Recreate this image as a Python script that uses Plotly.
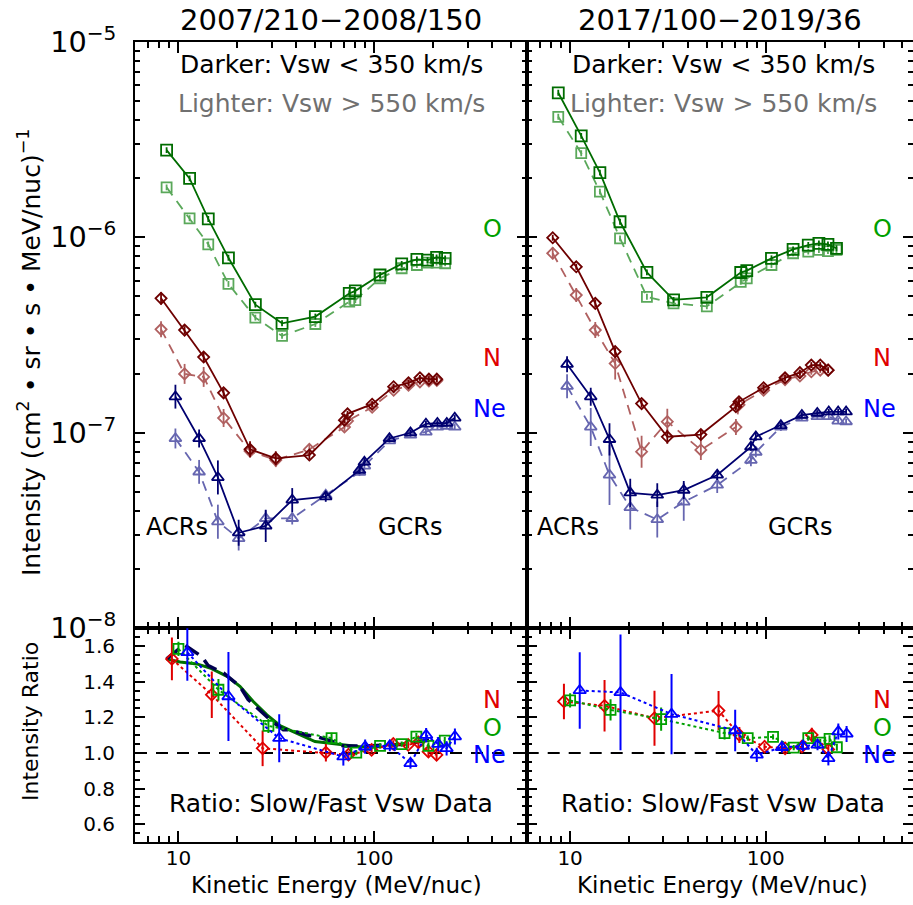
import numpy as np
import plotly.graph_objects as go

# ---------------- data ----------------
# energies (MeV/nuc) of the intensity spectra
E_O = [8.7, 11.4, 14.2, 18.0, 24.7, 33.8, 50.0, 74.5, 80.0, 107, 138, 165, 187, 208, 230]
E_N = [8.15, 10.75, 13.45, 17.0, 23.2, 31.4, 46.6, 70.4, 73.0, 97.5, 125.5, 149.5, 171, 190, 208.5]
E_Ne = [9.65, 12.75, 15.9, 20.3, 27.9, 38.1, 56.5, 84, 89, 119.5, 153, 183.5, 210, 234.5, 257.5]

# period 1: 2007/210-2008/150  (slow = darker, fast = lighter)
P1_O_slow = [2.79e-6, 2.0e-6, 1.24e-6, 7.85e-7, 4.52e-7, 3.63e-7, 3.93e-7, 5.16e-7, 5.32e-7, 6.41e-7, 7.3e-7, 7.71e-7, 7.64e-7, 7.88e-7, 7.79e-7]
P1_O_fast = [1.80e-6, 1.25e-6, 9.2e-7, 5.77e-7, 3.88e-7, 3.13e-7, 3.6e-7, 4.68e-7, 4.77e-7, 6.17e-7, 6.94e-7, 7.21e-7, 7.41e-7, 7.41e-7, 7.36e-7]
P1_N_slow = [4.87e-7, 3.35e-7, 2.44e-7, 1.60e-7, 8.23e-8, 7.40e-8, 7.69e-8, 1.16e-7, 1.25e-7, 1.40e-7, 1.72e-7, 1.80e-7, 1.91e-7, 1.88e-7, 1.88e-7]
P1_N_fast = [3.38e-7, 2.0e-7, 1.93e-7, 1.19e-7, 8.06e-8, 7.25e-8, 8.22e-8, 1.07e-7, 1.15e-7, 1.35e-7, 1.65e-7, 1.75e-7, 1.82e-7, 1.84e-7, 1.85e-7]
P1_Ne_slow = [1.53e-7, 9.35e-8, 5.91e-8, 3.08e-8, 3.34e-8, 4.53e-8, 4.71e-8, 6.44e-8, 7.08e-8, 9.35e-8, 1.0e-7, 1.11e-7, 1.12e-7, 1.12e-7, 1.19e-7]
P1_Ne_fast = [9.35e-8, 6.31e-8, 3.51e-8, 2.88e-8, 3.65e-8, 3.65e-8, 4.8e-8, 6.29e-8, 6.76e-8, 9.1e-8, 9.73e-8, 1.01e-7, 1.07e-7, 1.08e-7, 1.07e-7]

# period 2: 2017/100-2019/36
P2_O_slow = [5.48e-6, 3.30e-6, 2.14e-6, 1.20e-6, 6.61e-7, 4.78e-7, 4.93e-7, 6.6e-7, 6.75e-7, 7.8e-7, 8.67e-7, 9.12e-7, 9.3e-7, 9.2e-7, 8.78e-7]
P2_O_fast = [4.13e-6, 2.69e-6, 1.71e-6, 9.87e-7, 4.96e-7, 4.59e-7, 4.43e-7, 5.91e-7, 6.16e-7, 7.21e-7, 8.28e-7, 8.44e-7, 8.61e-7, 8.5e-7, 8.61e-7]
P2_N_slow = [9.94e-7, 7.06e-7, 4.59e-7, 2.6e-7, 1.41e-7, 9.54e-8, 9.79e-8, 1.36e-7, 1.44e-7, 1.70e-7, 1.91e-7, 2.03e-7, 2.22e-7, 2.22e-7, 2.09e-7]
P2_N_fast = [8.28e-7, 5.06e-7, 3.35e-7, 2.26e-7, 8.0e-8, 1.14e-7, 8.17e-8, 1.07e-7, 1.39e-7, 1.65e-7, 1.87e-7, 1.95e-7, 2.05e-7, 2.09e-7, 2.09e-7]
P2_Ne_slow = [2.24e-7, 1.53e-7, 9.25e-8, 4.93e-8, 4.8e-8, 5.09e-8, 6.08e-8, 8.47e-8, 9.54e-8, 1.09e-7, 1.23e-7, 1.26e-7, 1.28e-7, 1.28e-7, 1.28e-7]
P2_Ne_fast = [1.73e-7, 1.07e-7, 6.08e-8, 4.15e-8, 3.6e-8, 4.43e-8, 5.4e-8, 7.24e-8, 7.96e-8, 1.07e-7, 1.19e-7, 1.21e-7, 1.21e-7, 1.15e-7, 1.14e-7]

# uncertainties (in dex)
P1_O_slow_err = [0.015, 0.015, 0.015, 0.015, 0.015, 0.015, 0.015, 0.015, 0.015, 0.015, 0.015, 0.015, 0.015, 0.015, 0.015]
P1_O_fast_err = [0.015, 0.015, 0.015, 0.015, 0.015, 0.015, 0.015, 0.015, 0.015, 0.015, 0.015, 0.015, 0.015, 0.015, 0.015]
P1_N_slow_err = [0.031, 0.02, 0.026, 0.02, 0.041, 0.036, 0.02, 0.015, 0.015, 0.015, 0.015, 0.015, 0.015, 0.015, 0.015]
P1_N_fast_err = [0.041, 0.051, 0.051, 0.046, 0.031, 0.036, 0.026, 0.02, 0.02, 0.015, 0.015, 0.015, 0.015, 0.015, 0.015]
P1_Ne_slow_err = [0.061, 0.046, 0.087, 0.066, 0.082, 0.061, 0.026, 0.02, 0.02, 0.015, 0.015, 0.015, 0.015, 0.015, 0.015]
P1_Ne_fast_err = [0.051, 0.061, 0.087, 0.061, 0.041, 0.031, 0.026, 0.02, 0.02, 0.015, 0.015, 0.015, 0.015, 0.015, 0.015]
P2_O_slow_err = [0.015, 0.015, 0.015, 0.015, 0.015, 0.015, 0.015, 0.015, 0.015, 0.015, 0.015, 0.015, 0.015, 0.015, 0.015]
P2_O_fast_err = [0.015, 0.015, 0.015, 0.015, 0.015, 0.015, 0.015, 0.015, 0.015, 0.015, 0.015, 0.015, 0.015, 0.015, 0.015]
P2_N_slow_err = [0.015, 0.015, 0.02, 0.02, 0.02, 0.036, 0.026, 0.02, 0.02, 0.015, 0.015, 0.015, 0.015, 0.015, 0.015]
P2_N_fast_err = [0.031, 0.036, 0.041, 0.082, 0.082, 0.066, 0.051, 0.041, 0.026, 0.015, 0.015, 0.015, 0.015, 0.015, 0.015]
P2_Ne_slow_err = [0.041, 0.046, 0.082, 0.072, 0.061, 0.046, 0.026, 0.02, 0.02, 0.015, 0.015, 0.015, 0.015, 0.015, 0.015]
P2_Ne_fast_err = [0.061, 0.097, 0.153, 0.113, 0.092, 0.097, 0.041, 0.031, 0.026, 0.02, 0.015, 0.015, 0.015, 0.015, 0.015]

# ratios slow/fast, period 1
P1_rN_E = [9.26, 14.8, 26.9, 56.6, 73.8, 96.9, 125, 149, 168, 189, 208]
P1_rN = [1.528, 1.327, 1.026, 1.002, 0.99, 1.017, 1.051, 1.045, 1.06, 1.007, 0.989]
P1_rN_err = [0.12, 0.13, 0.10, 0.05, 0.02, 0.02, 0.02, 0.02, 0.03, 0.03, 0.03]
P1_rO_E = [10.0, 16.0, 28.8, 60.5, 80.9, 107, 138, 164, 189, 229]
P1_rO = [1.584, 1.355, 1.152, 1.083, 1.002, 1.04, 1.05, 1.092, 1.04, 1.069]
P1_rO_err = [0.04, 0.06, 0.04, 0.03, 0.015, 0.015, 0.015, 0.02, 0.02, 0.02]
P1_rNe_E = [11.1, 18.0, 32.7, 69.5, 89.8, 120, 153, 184, 212, 234, 258]
P1_rNe = [1.565, 1.317, 1.083, 0.979, 1.035, 1.04, 0.942, 1.10, 1.05, 1.026, 1.092]
P1_rNe_err = [0.16, 0.25, 0.135, 0.05, 0.04, 0.03, 0.03, 0.04, 0.04, 0.04, 0.045]
# smooth curves in period-1 ratio panel
P1_curveA_E = [8.7, 10.2, 12.4, 14.5, 17.7, 20.6, 24.1, 28.3, 33.2, 40.2, 49.8, 59.4, 69.5, 84, 107]
P1_curveA = [1.528, 1.511, 1.500, 1.477, 1.430, 1.374, 1.289, 1.214, 1.152, 1.111, 1.064, 1.055, 1.045, 1.035, 1.035]
P1_curveB_E = [8.7, 10.7, 13.2, 14.2, 17.0, 20.6, 22.7, 26.1, 29.4, 34.3, 37.1, 45.2, 50.8, 61.8, 69.5, 88, 110, 135, 150, 170, 190, 210]
P1_curveB = [1.528, 1.608, 1.54, 1.49, 1.449, 1.374, 1.30, 1.24, 1.186, 1.13, 1.13, 1.101, 1.092, 1.064, 1.039, 1.039, 1.045, 1.05, 1.05, 1.064, 1.075, 1.08]

# ratios slow/fast, period 2
P2_rN_E = [9.3, 15.0, 27.0, 57.4, 73.3, 98.6, 125.6, 153, 172, 209]
P2_rN = [1.289, 1.265, 1.195, 1.238, 1.101, 1.035, 1.026, 1.035, 1.101, 1.02]
P2_rN_err = [0.10, 0.145, 0.155, 0.11, 0.045, 0.02, 0.02, 0.02, 0.04, 0.03]
P2_rO_E = [10.0, 16.1, 29.2, 61.6, 80.9, 109, 139, 165, 190, 212, 231]
P2_rO = [1.295, 1.242, 1.19, 1.111, 1.083, 1.09, 1.03, 1.083, 1.058, 1.079, 1.032]
P2_rO_err = [0.04, 0.06, 0.065, 0.035, 0.015, 0.015, 0.015, 0.015, 0.02, 0.02, 0.02]
P2_rNe_E = [11.2, 18.1, 33.0, 69.8, 90, 121, 155, 184, 209, 235, 259]
P2_rNe = [1.351, 1.340, 1.218, 1.126, 0.989, 1.032, 1.039, 1.045, 0.97, 1.12, 1.107]
P2_rNe_err = [0.215, 0.325, 0.225, 0.117, 0.04, 0.03, 0.03, 0.03, 0.04, 0.045, 0.045]

# ---------------- styling ----------------
FONT = "DejaVu Sans"
W, H = 913, 905
C_O_D, C_O_L = "#006c00", "#5aa85a"
C_N_D, C_N_L = "#6e0000", "#b06060"
C_Ne_D, C_Ne_L = "#000070", "#6666b0"
C_R_N, C_R_O, C_R_Ne = "#e00000", "#00a000", "#0000ff"


def fx(px):
    return px / W


def fy(py):
    return 1 - py / H


fig = go.Figure()


def dex_err(vals, dex):
    v = np.array(vals)
    d = np.array(dex)
    return list(v * (10 ** d - 1)), list(v * (1 - 10 ** (-d)))


def top_trace(E, vals, dex, color, symbol, size, dash, xa, ya):
    up, dn = dex_err(vals, dex)
    fig.add_trace(go.Scatter(
        x=E, y=vals, mode="lines+markers", xaxis=xa, yaxis=ya,
        line=dict(color=color, width=1.8, dash=dash),
        marker=dict(symbol=symbol, size=size, color=color, line=dict(color=color, width=1.8)),
        error_y=dict(type="data", symmetric=False, array=up, arrayminus=dn,
                     color=color, thickness=1.8, width=0),
        showlegend=False, hoverinfo="skip"))


def ratio_trace(E, vals, err, color, symbol, size, xa, ya):
    fig.add_trace(go.Scatter(
        x=E, y=vals, mode="lines+markers", xaxis=xa, yaxis=ya,
        line=dict(color=color, width=2, dash="dot"),
        marker=dict(symbol=symbol, size=size, color=color, line=dict(color=color, width=1.8)),
        error_y=dict(type="data", array=err, color=color, thickness=2, width=0),
        showlegend=False, hoverinfo="skip"))


DASH = "10px,7px"
for (xa, ya, d) in [("x", "y", dict(O=(P1_O_slow, P1_O_fast, P1_O_slow_err, P1_O_fast_err),
                                      N=(P1_N_slow, P1_N_fast, P1_N_slow_err, P1_N_fast_err),
                                      Ne=(P1_Ne_slow, P1_Ne_fast, P1_Ne_slow_err, P1_Ne_fast_err))),
                    ("x2", "y2", dict(O=(P2_O_slow, P2_O_fast, P2_O_slow_err, P2_O_fast_err),
                                        N=(P2_N_slow, P2_N_fast, P2_N_slow_err, P2_N_fast_err),
                                        Ne=(P2_Ne_slow, P2_Ne_fast, P2_Ne_slow_err, P2_Ne_fast_err)))]:
    s, f, se, fe = d["O"]
    top_trace(E_O, f, fe, C_O_L, "square-open", 10, DASH, xa, ya)
    top_trace(E_O, s, se, C_O_D, "square-open", 11, "solid", xa, ya)
    s, f, se, fe = d["N"]
    top_trace(E_N, f, fe, C_N_L, "diamond-open", 8.5, DASH, xa, ya)
    top_trace(E_N, s, se, C_N_D, "diamond-open", 8.5, "solid", xa, ya)
    s, f, se, fe = d["Ne"]
    top_trace(E_Ne, f, fe, C_Ne_L, "triangle-up-open", 10.5, DASH, xa, ya)
    top_trace(E_Ne, s, se, C_Ne_D, "triangle-up-open", 10.5, "solid", xa, ya)

# ratio curves (period 1)
fig.add_trace(go.Scatter(x=P1_curveA_E, y=P1_curveA, mode="lines", xaxis="x3", yaxis="y3",
                         line=dict(color="#007000", width=3), showlegend=False, hoverinfo="skip"))
fig.add_trace(go.Scatter(x=P1_curveB_E, y=P1_curveB, mode="lines", xaxis="x3", yaxis="y3",
                         line=dict(color="#000050", width=3.5, dash="16px,8px"), showlegend=False, hoverinfo="skip"))

ratio_trace(P1_rN_E, P1_rN, P1_rN_err, C_R_N, "diamond-open", 9, "x3", "y3")
ratio_trace(P1_rO_E, P1_rO, P1_rO_err, C_R_O, "square-open", 10, "x3", "y3")
ratio_trace(P1_rNe_E, P1_rNe, P1_rNe_err, C_R_Ne, "triangle-up-open", 11, "x3", "y3")
ratio_trace(P2_rN_E, P2_rN, P2_rN_err, C_R_N, "diamond-open", 9, "x4", "y4")
ratio_trace(P2_rO_E, P2_rO, P2_rO_err, C_R_O, "square-open", 10, "x4", "y4")
ratio_trace(P2_rNe_E, P2_rNe, P2_rNe_err, C_R_Ne, "triangle-up-open", 11, "x4", "y4")

# ---------------- axes ----------------
XL = [fx(135), fx(526.7)]
XR = [fx(526.7), 1.0]
YT = [fy(628.3), fy(41.7)]
YB = [fy(842), fy(628.3)]


def base_axis(**kw):
    d = dict(showgrid=False, zeroline=False, showline=True, linecolor="black", linewidth=2,
             mirror="allticks", ticks="inside", ticklen=11, tickwidth=1.6, tickcolor="black",
             automargin=False,
             tickfont=dict(family=FONT, size=20, color="black"))
    d.update(kw)
    return d


def xlog(domain, rng, anchor, labels):
    return base_axis(type="log", domain=domain, range=[np.log10(rng[0]), np.log10(rng[1])],
                     anchor=anchor, dtick=1, showticklabels=labels, ticklabelstandoff=-3,
                     minor=dict(ticks="inside", ticklen=6, tickwidth=1.6, tickcolor="black",
                                dtick="D1", showgrid=False))


fig.update_layout(
    template="none",
    xaxis=xlog(XL, (6, 600), "y", False),
    xaxis2=xlog(XR, (6, 566), "y2", False),
    xaxis3=xlog(XL, (6, 600), "y3", True),
    xaxis4=xlog(XR, (6, 566), "y4", True),
    yaxis=base_axis(type="log", domain=YT, range=[-8, -5], anchor="x", dtick=1,
                    exponentformat="power", tickfont=dict(family=FONT, size=23, color="black"),
                    ticklen=10, ticklabelstandoff=12,
                    minor=dict(ticks="inside", ticklen=5, tickwidth=1.6, tickcolor="black",
                               dtick="D1", showgrid=False)),
    yaxis2=base_axis(type="log", domain=YT, range=[-8, -5], anchor="x2", dtick=1,
                     showticklabels=False, ticklen=10,
                     minor=dict(ticks="inside", ticklen=5, tickwidth=1.6, tickcolor="black",
                                dtick="D1", showgrid=False)),
    yaxis3=base_axis(domain=YB, range=[0.5, 1.7], anchor="x3", tick0=0, dtick=0.2,
                     tickformat=".1f", ticklen=10, ticklabelstandoff=14,
                     minor=dict(ticks="inside", ticklen=5, tickwidth=1.6, tickcolor="black",
                                dtick=0.05, showgrid=False)),
    yaxis4=base_axis(domain=YB, range=[0.5, 1.7], anchor="x4", tick0=0, dtick=0.2,
                     showticklabels=False, ticklen=10,
                     minor=dict(ticks="inside", ticklen=5, tickwidth=1.6, tickcolor="black",
                                dtick=0.05, showgrid=False)),
)

# dashed unity lines
for xa, ya in [("x3", "y3"), ("x4", "y4")]:
    fig.add_shape(type="line", xref=f"{xa} domain", yref=ya, x0=0, x1=1, y0=1.0, y1=1.0,
                  line=dict(color="black", width=2, dash="12px,9px"), layer="below")

# ---------------- text ----------------
ann = []


def txt(s, px, py, size, color="black", angle=0):
    ann.append(dict(text=s, x=fx(px), y=fy(py), xref="paper", yref="paper",
                    showarrow=False, xanchor="center", yanchor="middle", textangle=angle,
                    font=dict(family=FONT, size=size, color=color)))


txt("2007/210\u22122008/150", 331, 20, 29)
txt("2017/100\u22122019/36", 720, 20, 29)
for cx in (331, 723):
    txt("Darker: Vsw < 350 km/s", cx, 64, 25)
    txt("Lighter: Vsw > 550 km/s", cx, 103, 25, "#707070")
    txt("Ratio: Slow/Fast Vsw Data", cx, 803, 25)
txt("ACRs", 177, 527, 24)
txt("GCRs", 410, 527, 24)
txt("ACRs", 568, 527, 24)
txt("GCRs", 800, 527, 24)
for cx in (492, 882):
    txt("O", cx, 229, 24, C_R_O)
    txt("N", cx, 358, 24, C_R_N)
    txt("Ne", cx - 3, 409, 24, C_R_Ne)
    txt("N", cx, 700, 24, C_R_N)
    txt("O", cx, 728, 24, C_R_O)
    txt("Ne", cx - 3, 755, 24, C_R_Ne)
txt("Intensity (cm<sup>2</sup> \u2022 sr \u2022 s \u2022 MeV/nuc)<sup>\u22121</sup>",
    30, 352, 25, angle=-90)
txt("Intensity Ratio", 30, 722, 22, angle=-90)
txt("Kinetic Energy (MeV/nuc)", 336, 885, 23)
txt("Kinetic Energy (MeV/nuc)", 722, 885, 23)

fig.update_layout(annotations=ann, width=W, height=H, autosize=False,
                  margin=dict(l=0, r=0, t=0, b=0, pad=0),
                  plot_bgcolor="white", paper_bgcolor="white", showlegend=False)

fig.write_html("out.html", config={"displayModeBar": False},
               post_script="document.body.style.margin='0px';")
